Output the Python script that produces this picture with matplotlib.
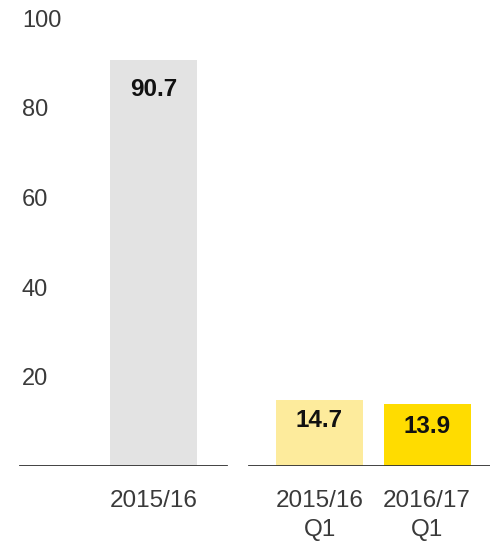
import matplotlib.pyplot as plt

plt.rcParams['font.family'] = ['Liberation Sans', 'DejaVu Sans']

categories = ['2015/16', '2015/16\nQ1', '2016/17\nQ1']
values = [90.7, 14.7, 13.9]
yticks = [20, 40, 60, 80, 100]
colors = ['#e3e3e3', '#fdeb9c', '#ffdc00']

# x centres in pixel units of the 490px wide figure
xpos = [153.5, 319.5, 427]
bar_w = 87

fig = plt.figure(figsize=(4.9, 5.41), dpi=100)
ax = fig.add_axes([0, (541 - 466) / 541, 1, 465.4 / 541])
ax.set_xlim(0, 490)
ax.set_ylim(0, 104)

ax.bar(xpos, values, width=bar_w, color=colors, zorder=2)

# value labels inside the top of each bar
offs = [29, 20, 23]
for x, v, o in zip(xpos, values, offs):
    ax.annotate(f'{v}', (x, v), xytext=(0, -o * 0.72), textcoords='offset points',
                ha='center', va='center', fontsize=17.5, fontweight='bold', color='#111111')

# split baseline
ax.axhline(0, xmin=20 / 490, xmax=227 / 490, color='#333333', lw=1.3, zorder=3)
ax.axhline(0, xmin=249 / 490, xmax=1, color='#333333', lw=1.3, zorder=3)

for s in ax.spines.values():
    s.set_visible(False)

ax.set_yticks(yticks)
ax.set_yticklabels([str(t) for t in yticks])
ax.tick_params(axis='y', length=0, pad=-22 * 0.72, labelsize=17, labelcolor='#3a3a3a')
for lab in ax.get_yticklabels():
    lab.set_horizontalalignment('left')

ax.set_xticks(xpos)
ax.set_xticklabels(categories, linespacing=1.45)
ax.tick_params(axis='x', length=0, pad=17, labelsize=17.5, labelcolor='#3a3a3a')

fig.savefig('out.png', dpi=100)
